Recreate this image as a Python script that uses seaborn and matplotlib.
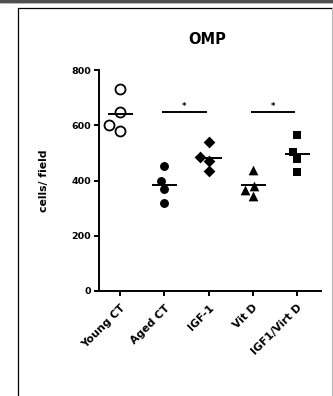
import numpy as np
import pandas as pd
import matplotlib
matplotlib.use("Agg")
import matplotlib.pyplot as plt
from matplotlib.lines import Line2D
from matplotlib.patches import Rectangle
import seaborn as sns

# data (cells / field)
groups = ["Young CT", "Aged CT", "IGF-1", "Vit D", "IGF1/Virt D"]
young_ct = [730, 649, 600, 579]
aged_ct = [451, 398, 368, 320]
igf1 = [540, 484, 472, 434]
vit_d = [438, 380, 366, 344]
igf1_vitd = [565, 504, 477, 432]
yticks = [0, 200, 400, 600, 800]
sig_pairs = [("Aged CT", "IGF-1"), ("Vit D", "IGF1/Virt D")]
sig_y = 648

values = [young_ct, aged_ct, igf1, vit_d, igf1_vitd]
df = pd.DataFrame({
    "group": np.repeat(groups, [len(v) for v in values]),
    "value": np.concatenate(values),
})

sns.set_style("ticks")
plt.rcParams["font.family"] = ["DejaVu Sans"]
plt.rcParams["font.weight"] = "bold"
for k in ["text.color", "axes.labelcolor", "xtick.color", "ytick.color", "axes.edgecolor"]:
    plt.rcParams[k] = "black"

W, H = 333, 396
fig = plt.figure(figsize=(W / 100, H / 100), dpi=100)
ax = fig.add_axes([98.7 / W, 1 - 291 / H, (321 - 98.7) / W, (291 - 70) / H])

# marker style per group
styles = {
    "Young CT": dict(marker="o", color="white", edgecolor="black", linewidth=1.3, size=7.2),
    "Aged CT": dict(marker="o", color="black", size=6.4),
    "IGF-1": dict(marker="D", color="black", size=6.0),
    "Vit D": dict(marker="^", color="black", size=7.0),
    "IGF1/Virt D": dict(marker="s", color="black", size=6.2),
}
for g in groups:
    sns.swarmplot(data=df[df["group"] == g], x="group", y="value", order=groups,
                  ax=ax, zorder=3, **styles[g])

# group means
sns.pointplot(data=df, x="group", y="value", order=groups, estimator="mean",
              errorbar=None, markers="_", linestyles="none", color="black",
              markersize=18, markeredgewidth=1.4, ax=ax, zorder=4)

# significance bars
for a, b in sig_pairs:
    x0, x1 = groups.index(a) - 0.05, groups.index(b) - 0.04
    ax.plot([x0, x1], [sig_y, sig_y], color="black", lw=1.4, solid_capstyle="butt")
    ax.text((x0 + x1) / 2, sig_y + 4, "*", ha="center", va="bottom", fontsize=6)

ax.set_xlim(-0.48, 4.54)
ax.set_ylim(0, 800)
ax.set_yticks(yticks)
ax.set_xlabel("")
ax.set_ylabel("cells/ field", fontsize=7.8, fontweight="bold")
ax.yaxis.set_label_coords(-0.225, 0.5)
sns.despine(ax=ax)
for s in ["left", "bottom"]:
    ax.spines[s].set_linewidth(1.4)
ax.tick_params(axis="both", width=1.4, length=3.5, labelsize=6.8, pad=2)
for lab in ax.get_yticklabels():
    lab.set_fontweight("bold")
ax.set_xticks(range(len(groups)))
ax.set_xticklabels(groups, rotation=45, ha="right", rotation_mode="anchor",
                   fontsize=7.8, fontweight="bold")
ax.tick_params(axis="x", pad=5)

fig.text(207 / W, 1 - 39 / H, "OMP", ha="center", va="center",
         fontsize=10.5, fontweight="bold")

# page frame around the chart
fig.add_artist(Rectangle((0, 1 - 2.6 / H), 1, 2.6 / H, color="#4f4f4f",
                         transform=fig.transFigure, lw=0))
fig.add_artist(Line2D([0, 1], [1 - 3.2 / H] * 2, color="#a8a8a8", lw=0.6))
fig.add_artist(Line2D([17.5 / W, 1], [1 - 7.6 / H] * 2, color="black", lw=0.9))
fig.add_artist(Line2D([17.5 / W] * 2, [0, 1 - 7.6 / H], color="black", lw=0.9))
fig.add_artist(Line2D([331.6 / W] * 2, [0, 1 - 8 / H], color="#b4b4b4", lw=0.8))

fig.savefig("out.png", dpi=100)
